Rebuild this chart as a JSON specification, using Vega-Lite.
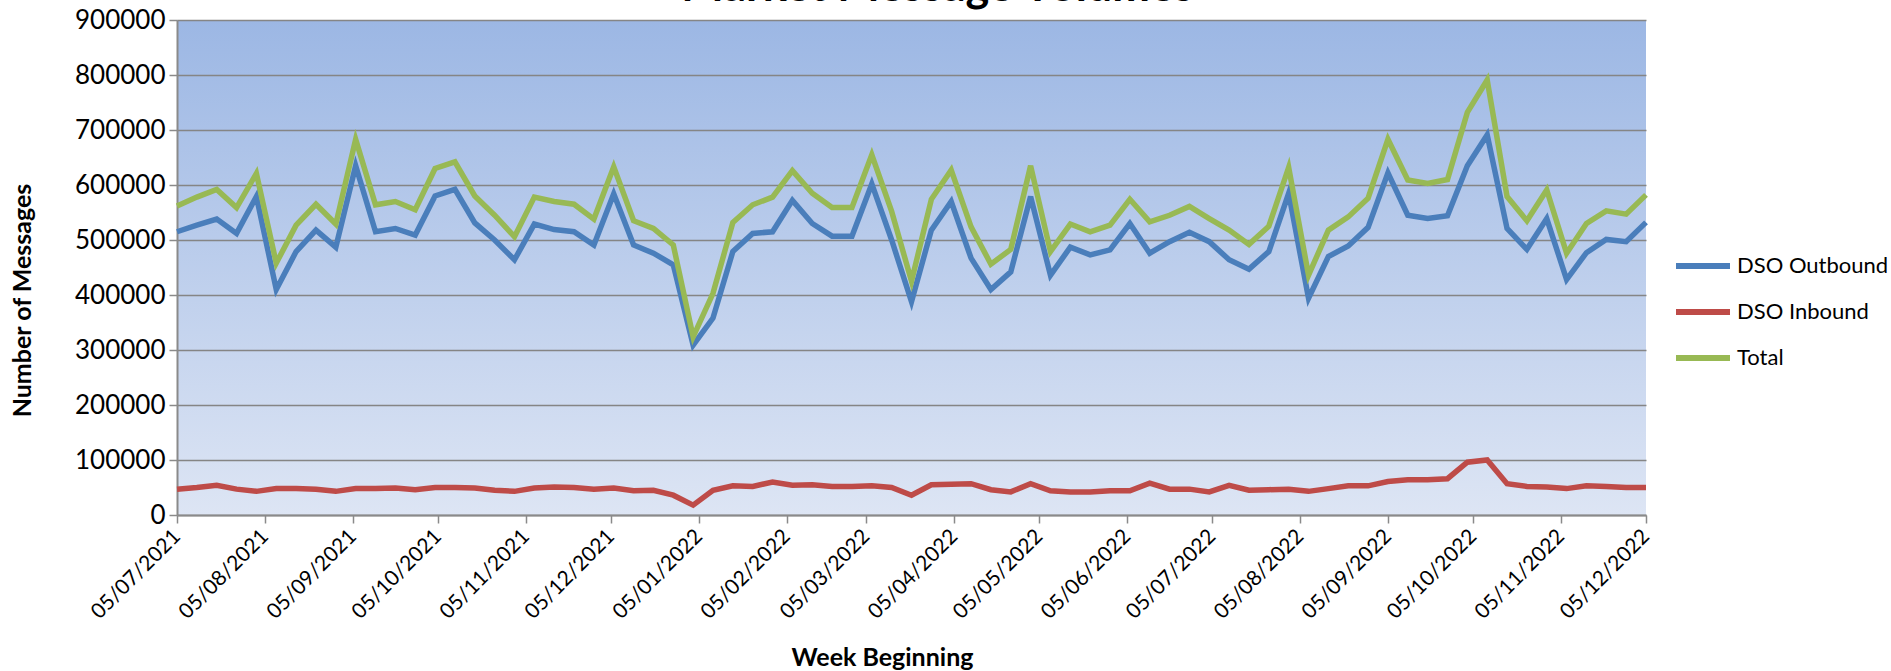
{
  "$schema": "https://vega.github.io/schema/vega-lite/v6.json",
  "width": 1469,
  "height": 495,
  "autosize": {"type": "none"},
  "padding": {"left": 177, "top": 20, "right": 245, "bottom": 156},
  "background": "white",
  "title": {"text": "Market Message Volumes", "font": "Lato", "fontSize": 45, "fontWeight": "bold", "color": "black", "anchor": "middle", "frame": "bounds", "offset": 4, "dy": 7, "dx": -12},
  "config": {
    "view": {"stroke": null, "fill": {"expr": "{gradient: 'linear', x1: 0, y1: 0, x2: 0, y2: 1, stops: [{offset: 0, color: '#9CB7E4'}, {offset: 1, color: '#DDE5F4'}]}"}},
    "axis": {"labelFont": "Lato", "titleFont": "Lato", "labelColor": "black", "titleColor": "black", "domainColor": "#8A8A8A", "domainWidth": 2, "tickColor": "#8A8A8A", "tickWidth": 1.5, "tickSize": 8, "gridColor": "#858585", "gridWidth": 1.6, "titleFontWeight": "bold"}
  },
  "data": {"values": [
    {"week": "2021-07-05", "DSO Outbound": 515000, "DSO Inbound": 47000, "Total": 562000},
    {"week": "2021-07-12", "DSO Outbound": 527000, "DSO Inbound": 50000, "Total": 578000},
    {"week": "2021-07-19", "DSO Outbound": 538000, "DSO Inbound": 54000, "Total": 592000},
    {"week": "2021-07-26", "DSO Outbound": 512000, "DSO Inbound": 47000, "Total": 559000},
    {"week": "2021-08-02", "DSO Outbound": 579000, "DSO Inbound": 43000, "Total": 621000},
    {"week": "2021-08-09", "DSO Outbound": 410000, "DSO Inbound": 48000, "Total": 458000},
    {"week": "2021-08-16", "DSO Outbound": 479000, "DSO Inbound": 48000, "Total": 527000},
    {"week": "2021-08-23", "DSO Outbound": 518000, "DSO Inbound": 47000, "Total": 565000},
    {"week": "2021-08-30", "DSO Outbound": 487000, "DSO Inbound": 43000, "Total": 529000},
    {"week": "2021-09-06", "DSO Outbound": 635000, "DSO Inbound": 48000, "Total": 683000},
    {"week": "2021-09-13", "DSO Outbound": 515000, "DSO Inbound": 48000, "Total": 564000},
    {"week": "2021-09-20", "DSO Outbound": 521000, "DSO Inbound": 49000, "Total": 570000},
    {"week": "2021-09-27", "DSO Outbound": 509000, "DSO Inbound": 46000, "Total": 555000},
    {"week": "2021-10-04", "DSO Outbound": 580000, "DSO Inbound": 50000, "Total": 630000},
    {"week": "2021-10-11", "DSO Outbound": 592000, "DSO Inbound": 50000, "Total": 642000},
    {"week": "2021-10-18", "DSO Outbound": 531000, "DSO Inbound": 49000, "Total": 580000},
    {"week": "2021-10-25", "DSO Outbound": 500000, "DSO Inbound": 45000, "Total": 545000},
    {"week": "2021-11-01", "DSO Outbound": 464000, "DSO Inbound": 43000, "Total": 506000},
    {"week": "2021-11-08", "DSO Outbound": 529000, "DSO Inbound": 49000, "Total": 578000},
    {"week": "2021-11-15", "DSO Outbound": 519000, "DSO Inbound": 51000, "Total": 570000},
    {"week": "2021-11-22", "DSO Outbound": 515000, "DSO Inbound": 50000, "Total": 565000},
    {"week": "2021-11-29", "DSO Outbound": 491000, "DSO Inbound": 47000, "Total": 538000},
    {"week": "2021-12-06", "DSO Outbound": 584000, "DSO Inbound": 49000, "Total": 633000},
    {"week": "2021-12-13", "DSO Outbound": 491000, "DSO Inbound": 44000, "Total": 535000},
    {"week": "2021-12-20", "DSO Outbound": 476000, "DSO Inbound": 45000, "Total": 521000},
    {"week": "2021-12-27", "DSO Outbound": 455000, "DSO Inbound": 36000, "Total": 491000},
    {"week": "2022-01-03", "DSO Outbound": 309000, "DSO Inbound": 18000, "Total": 324000},
    {"week": "2022-01-10", "DSO Outbound": 358000, "DSO Inbound": 45000, "Total": 403000},
    {"week": "2022-01-17", "DSO Outbound": 479000, "DSO Inbound": 53000, "Total": 532000},
    {"week": "2022-01-24", "DSO Outbound": 512000, "DSO Inbound": 52000, "Total": 564000},
    {"week": "2022-01-31", "DSO Outbound": 515000, "DSO Inbound": 60000, "Total": 578000},
    {"week": "2022-02-07", "DSO Outbound": 572000, "DSO Inbound": 54000, "Total": 626000},
    {"week": "2022-02-14", "DSO Outbound": 530000, "DSO Inbound": 55000, "Total": 585000},
    {"week": "2022-02-21", "DSO Outbound": 507000, "DSO Inbound": 52000, "Total": 559000},
    {"week": "2022-02-28", "DSO Outbound": 507000, "DSO Inbound": 52000, "Total": 559000},
    {"week": "2022-03-07", "DSO Outbound": 602000, "DSO Inbound": 53000, "Total": 655000},
    {"week": "2022-03-14", "DSO Outbound": 500000, "DSO Inbound": 50000, "Total": 552000},
    {"week": "2022-03-21", "DSO Outbound": 388000, "DSO Inbound": 36000, "Total": 425000},
    {"week": "2022-03-28", "DSO Outbound": 518000, "DSO Inbound": 55000, "Total": 574000},
    {"week": "2022-04-04", "DSO Outbound": 570000, "DSO Inbound": 56000, "Total": 627000},
    {"week": "2022-04-11", "DSO Outbound": 467000, "DSO Inbound": 57000, "Total": 524000},
    {"week": "2022-04-18", "DSO Outbound": 410000, "DSO Inbound": 46000, "Total": 456000},
    {"week": "2022-04-25", "DSO Outbound": 442000, "DSO Inbound": 42000, "Total": 483000},
    {"week": "2022-05-02", "DSO Outbound": 579000, "DSO Inbound": 57000, "Total": 635000},
    {"week": "2022-05-09", "DSO Outbound": 436000, "DSO Inbound": 44000, "Total": 479000},
    {"week": "2022-05-16", "DSO Outbound": 487000, "DSO Inbound": 42000, "Total": 529000},
    {"week": "2022-05-23", "DSO Outbound": 473000, "DSO Inbound": 42000, "Total": 515000},
    {"week": "2022-05-30", "DSO Outbound": 482000, "DSO Inbound": 44000, "Total": 527000},
    {"week": "2022-06-06", "DSO Outbound": 530000, "DSO Inbound": 44000, "Total": 574000},
    {"week": "2022-06-13", "DSO Outbound": 476000, "DSO Inbound": 58000, "Total": 533000},
    {"week": "2022-06-20", "DSO Outbound": 497000, "DSO Inbound": 47000, "Total": 545000},
    {"week": "2022-06-27", "DSO Outbound": 514000, "DSO Inbound": 47000, "Total": 561000},
    {"week": "2022-07-04", "DSO Outbound": 497000, "DSO Inbound": 42000, "Total": 539000},
    {"week": "2022-07-11", "DSO Outbound": 464000, "DSO Inbound": 54000, "Total": 518000},
    {"week": "2022-07-18", "DSO Outbound": 447000, "DSO Inbound": 45000, "Total": 492000},
    {"week": "2022-07-25", "DSO Outbound": 479000, "DSO Inbound": 46000, "Total": 525000},
    {"week": "2022-08-01", "DSO Outbound": 585000, "DSO Inbound": 47000, "Total": 632000},
    {"week": "2022-08-08", "DSO Outbound": 394000, "DSO Inbound": 43000, "Total": 436000},
    {"week": "2022-08-15", "DSO Outbound": 470000, "DSO Inbound": 48000, "Total": 518000},
    {"week": "2022-08-22", "DSO Outbound": 489000, "DSO Inbound": 53000, "Total": 542000},
    {"week": "2022-08-29", "DSO Outbound": 523000, "DSO Inbound": 53000, "Total": 576000},
    {"week": "2022-09-05", "DSO Outbound": 622000, "DSO Inbound": 61000, "Total": 683000},
    {"week": "2022-09-12", "DSO Outbound": 545000, "DSO Inbound": 64000, "Total": 609000},
    {"week": "2022-09-19", "DSO Outbound": 539000, "DSO Inbound": 64000, "Total": 603000},
    {"week": "2022-09-26", "DSO Outbound": 544000, "DSO Inbound": 66000, "Total": 610000},
    {"week": "2022-10-03", "DSO Outbound": 635000, "DSO Inbound": 96000, "Total": 732000},
    {"week": "2022-10-10", "DSO Outbound": 691000, "DSO Inbound": 100000, "Total": 791000},
    {"week": "2022-10-17", "DSO Outbound": 521000, "DSO Inbound": 57000, "Total": 579000},
    {"week": "2022-10-24", "DSO Outbound": 483000, "DSO Inbound": 52000, "Total": 535000},
    {"week": "2022-10-31", "DSO Outbound": 539000, "DSO Inbound": 51000, "Total": 591000},
    {"week": "2022-11-07", "DSO Outbound": 428000, "DSO Inbound": 48000, "Total": 476000},
    {"week": "2022-11-14", "DSO Outbound": 477000, "DSO Inbound": 53000, "Total": 530000},
    {"week": "2022-11-21", "DSO Outbound": 501000, "DSO Inbound": 52000, "Total": 553000},
    {"week": "2022-11-28", "DSO Outbound": 497000, "DSO Inbound": 50000, "Total": 547000},
    {"week": "2022-12-05", "DSO Outbound": 532000, "DSO Inbound": 50000, "Total": 582000}
  ]},
  "transform": [{"fold": ["DSO Outbound", "DSO Inbound", "Total"], "as": ["series", "messages"]}],
  "mark": {"type": "line", "strokeWidth": 5.5, "clip": false},
  "encoding": {
    "x": {
      "field": "week", "type": "temporal",
      "scale": {"type": "utc", "domain": [{"year": 2021, "month": 7, "date": 5, "utc": true}, {"year": 2022, "month": 12, "date": 5, "utc": true}]},
      "axis": {
        "values": [
          {"year": 2021, "month": 7, "date": 5, "utc": true},
          {"year": 2021, "month": 8, "date": 5, "utc": true},
          {"year": 2021, "month": 9, "date": 5, "utc": true},
          {"year": 2021, "month": 10, "date": 5, "utc": true},
          {"year": 2021, "month": 11, "date": 5, "utc": true},
          {"year": 2021, "month": 12, "date": 5, "utc": true},
          {"year": 2022, "month": 1, "date": 5, "utc": true},
          {"year": 2022, "month": 2, "date": 5, "utc": true},
          {"year": 2022, "month": 3, "date": 5, "utc": true},
          {"year": 2022, "month": 4, "date": 5, "utc": true},
          {"year": 2022, "month": 5, "date": 5, "utc": true},
          {"year": 2022, "month": 6, "date": 5, "utc": true},
          {"year": 2022, "month": 7, "date": 5, "utc": true},
          {"year": 2022, "month": 8, "date": 5, "utc": true},
          {"year": 2022, "month": 9, "date": 5, "utc": true},
          {"year": 2022, "month": 10, "date": 5, "utc": true},
          {"year": 2022, "month": 11, "date": 5, "utc": true},
          {"year": 2022, "month": 12, "date": 5, "utc": true}
        ],
        "format": "%d/%m/%Y",
        "labelAngle": -45, "labelAlign": "right", "labelBaseline": "middle",
        "labelFontSize": 21, "labelPadding": 10, "labelOverlap": false, "labelBound": false, "labelFlush": false,
        "grid": false,
        "title": "Week Beginning", "titleFontSize": 25, "titleX": 705, "titleY": 142, "titleBaseline": "middle", "titleAnchor": "middle"
      }
    },
    "y": {
      "field": "messages", "type": "quantitative",
      "scale": {"domain": [0, 900000], "nice": false},
      "axis": {
        "values": [0, 100000, 200000, 300000, 400000, 500000, 600000, 700000, 800000, 900000],
        "format": "d", "labelFontSize": 26, "labelPadding": 4, "grid": true,
        "title": "Number of Messages", "titleFontSize": 25, "titleX": -155, "titleY": 280, "titleAnchor": "middle", "titleBaseline": "middle", "titleAngle": -90
      }
    },
    "color": {
      "field": "series", "type": "nominal",
      "scale": {"domain": ["DSO Outbound", "DSO Inbound", "Total"], "range": ["#4A7EBB", "#BE4B48", "#98B954"]},
      "legend": {"title": null, "orient": "none", "legendX": 1496, "legendY": 216, "symbolType": "stroke", "symbolSize": 2916, "symbolStrokeWidth": 6, "labelFont": "Lato", "labelFontSize": 22, "labelLimit": 400, "labelColor": "black", "rowPadding": 4, "labelOffset": 4, "padding": 0}
    }
  }
}
